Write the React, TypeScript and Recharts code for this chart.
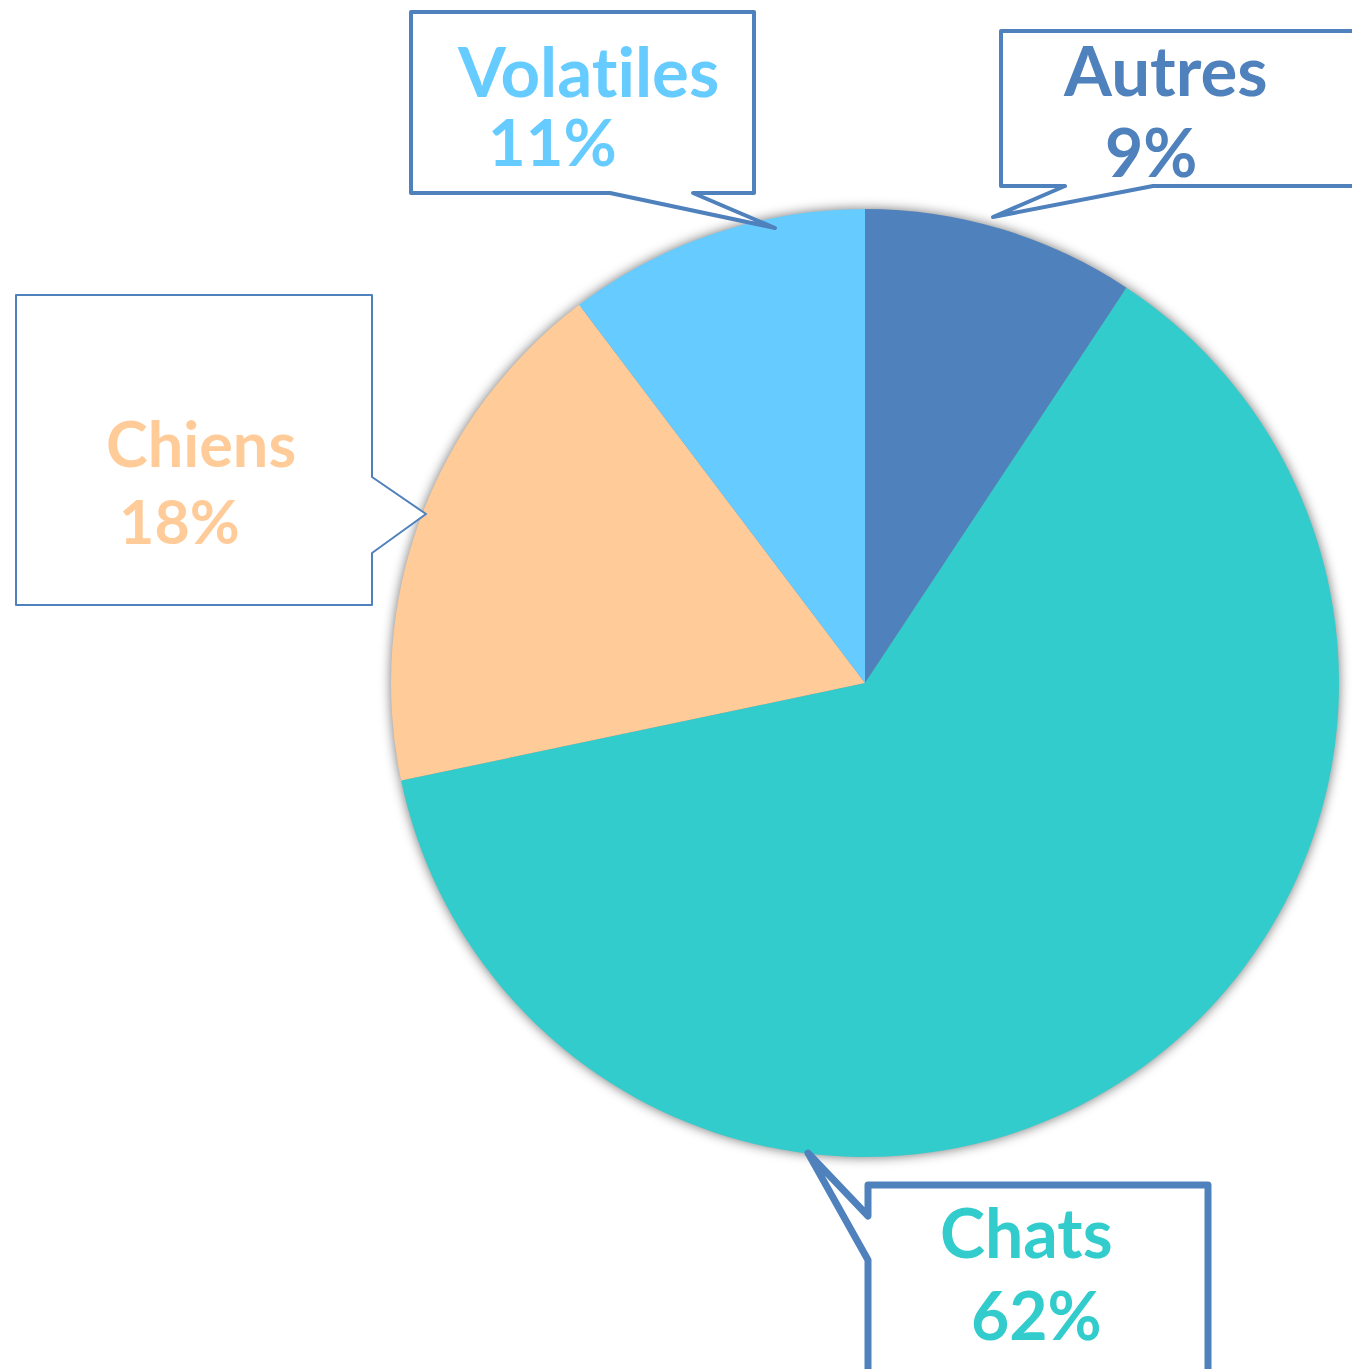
import React from 'react';
import { PieChart, Pie, Cell } from 'recharts';

const categories = ['Autres', 'Chats', 'Chiens', 'Volatiles'];
const shares = [9.3, 62.4, 18.0, 10.3];
const percentLabels = ['9%', '62%', '18%', '11%'];
const sliceColors = ['#4F81BD', '#33CCCC', '#FFCC99', '#66CCFF'];

const data = categories.map((name, i) => ({ name, value: shares[i], pct: percentLabels[i] }));

const BOX_STROKE = '#4F81BD';
const FONT = 'Lato, "Open Sans", sans-serif';

// callout geometry, relative to the pie centre
const callouts: Record<
  string,
  { path: number[][]; strokeWidth: number; nameSize: number; pctSize: number; lines: number[][] }
> = {
  Autres: {
    path: [[136, -652], [520, -652], [520, -497], [288, -497], [128, -466], [200, -497], [136, -497]],
    strokeWidth: 4,
    nameSize: 69,
    pctSize: 66,
    lines: [[199, -587], [240, -506]],
  },
  Chats: {
    path: [[3, 502], [343, 502], [343, 720], [3, 720], [3, 577], [-57, 470], [3, 533]],
    strokeWidth: 7,
    nameSize: 68,
    pctSize: 66,
    lines: [[75, 575], [106, 657]],
  },
  Chiens: {
    path: [[-849, -388], [-493, -388], [-493, -206], [-439, -169], [-493, -130], [-493, -78], [-849, -78]],
    strokeWidth: 2,
    nameSize: 63,
    pctSize: 61,
    lines: [[-759, -216], [-746, -139]],
  },
  Volatiles: {
    path: [[-454, -671], [-111, -671], [-111, -490], [-172, -490], [-90, -455], [-255, -490], [-454, -490]],
    strokeWidth: 4,
    nameSize: 69,
    pctSize: 65,
    lines: [[-407, -586], [-377, -517]],
  },
};

const CX = 865;
const CY = 683;
const R = 474;

const renderCallout = (props: any) => {
  const cx = props.cx ?? CX;
  const cy = props.cy ?? CY;
  const name = props.name ?? props.payload?.name;
  const idx = categories.indexOf(name);
  const c = callouts[name];
  if (!c) return null;
  const d =
    c.path.map((p, i) => `${i === 0 ? 'M' : 'L'}${cx + p[0]},${cy + p[1]}`).join(' ') + ' Z';
  const pct = props.payload?.pct ?? percentLabels[idx];
  const textStyle = { fontVariantLigatures: 'none' as const };
  return (
    <g key={`callout-${name}`}>
      <path d={d} fill="#FFFFFF" stroke={BOX_STROKE} strokeWidth={c.strokeWidth} strokeLinejoin="round" />
      <text
        x={cx + c.lines[0][0]}
        y={cy + c.lines[0][1]}
        fill={sliceColors[idx]}
        fontFamily={FONT}
        fontWeight={700}
        fontSize={c.nameSize}
        textAnchor="start"
        style={textStyle}
      >
        {name}
      </text>
      <text
        x={cx + c.lines[1][0]}
        y={cy + c.lines[1][1]}
        fill={sliceColors[idx]}
        fontFamily={FONT}
        fontWeight={700}
        fontSize={c.pctSize}
        textAnchor="start"
        style={textStyle}
      >
        {pct}
      </text>
    </g>
  );
};

export default function App() {
  return (
    <div style={{ position: 'absolute', left: 0, top: 0, width: 1352, height: 1369, background: '#FFFFFF' }}>
      <svg width={0} height={0} style={{ position: 'absolute' }}>
        <defs>
          <filter id="pieShadow" x="-20%" y="-20%" width="140%" height="140%">
            <feGaussianBlur stdDeviation="6" />
          </filter>
        </defs>
      </svg>
      <PieChart width={1352} height={1369} margin={{ top: 0, right: 0, bottom: 0, left: 0 }}>
        <Pie
          data={data}
          dataKey="value"
          nameKey="name"
          cx={CX}
          cy={CY}
          outerRadius={R}
          startAngle={90}
          endAngle={-270}
          stroke="none"
          isAnimationActive={false}
          label={false}
          labelLine={false}
        >
          {data.map((d) => (
            <Cell key={`shadow-${d.name}`} fill="#000000" fillOpacity={0.55} filter="url(#pieShadow)" />
          ))}
        </Pie>
        <Pie
          data={data}
          dataKey="value"
          nameKey="name"
          cx={CX}
          cy={CY}
          outerRadius={R}
          startAngle={90}
          endAngle={-270}
          stroke="none"
          isAnimationActive={false}
          label={renderCallout}
          labelLine={false}
        >
          {data.map((d, i) => (
            <Cell key={`cell-${d.name}`} fill={sliceColors[i]} />
          ))}
        </Pie>
      </PieChart>
    </div>
  );
}
